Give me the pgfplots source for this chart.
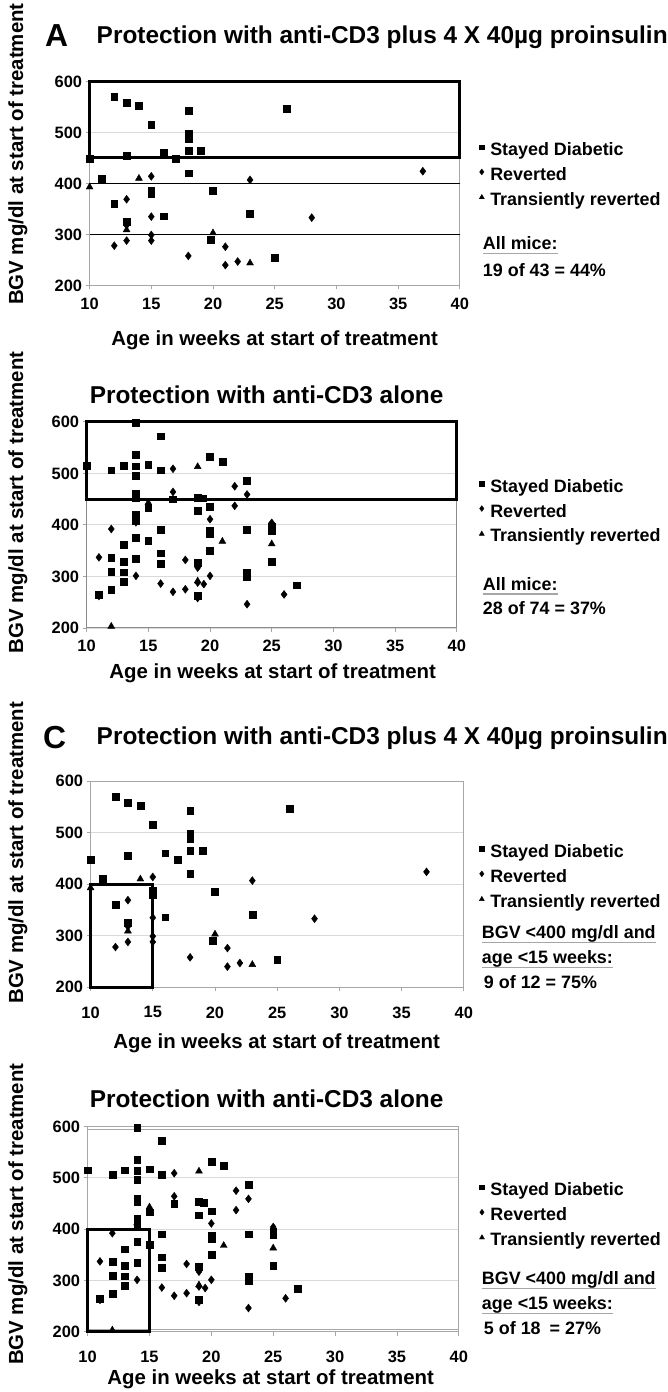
\documentclass[border=0pt]{standalone}
\usepackage{fontspec}
\setmainfont{Liberation Sans}
\usepackage{pgfplots}
\usepackage{pgfplotstable}
\pgfplotsset{compat=1.18}

% proinsulin group (panels A and C)
\pgfplotstableread{
x y
12 570
13 558
14 553
15 515
18 543
18 498
18 488
18 465
19 465
16 460
17 448
13 455
10 448
26 546
18 420
11 410
15 387
15 380
20 386
12 360
13 325
16 336
23 341
19.8 290
25 254
}\sqA
\pgfplotstableread{
x y
37 424
15 414
23 407
13 369
15 335
28 333
15 299
15 288
13 318
13 288
12 278
21 276
18 258
21 240
22 247
}\dmA
\pgfplotstableread{
x y
10 393
14 410
13 309
20 303
23 244
}\trA

% anti-CD3 alone (panels B and D)
\pgfplotstableread{
x y
10 515
12 506
13 515
14 598
14 536
14 514
14 496
14 460
14 453
15 517
16 572
16 506
20 532
21 523
23 486
19 453
19.4 452
17 450
15 433
14 420
14 408
20 435
19 427
14 375
15 370
16 390
20 388
20 382
23 390
25 396
25 388
13 361
16 345
20 350
12 337
14 335
13 328
16 325
19 326
25 328
12 309
13 308
23 308
23 300
13 290
12 274
27 283
19 263
11 264
}\sqB
\pgfplotstableread{
x y
11 337
11 262
12 392
14 301
14 405
16 286
17 270
18 275
18 332
17 509
17 464
19 317
19 288
19.5 285
20 301
20 411
22 475
22 437
23 459
23 246
25 404
26 265
19 258
}\dmB
\pgfplotstableread{
x y
19 513
15 443
14 412
21 368
25 363
19 291
12 203
}\trB

\newcommand{\titlefont}{\fontsize{24.5}{28}\selectfont\bfseries}
\newcommand{\letterfont}{\fontsize{32}{36}\selectfont\bfseries}
\newcommand{\labfont}{\fontsize{20.5}{24}\selectfont\bfseries}
\newcommand{\legfont}{\fontsize{18}{21}\selectfont\bfseries}

\pgfplotsset{
  panel/.style={
    scale only axis, anchor=south west, clip=false,
    xmin=10, xmax=40, ymin=200, ymax=600,
    xtick={10,15,...,40}, ytick={200,300,...,600},
    tick align=outside, tick pos=left, major tick length=4pt,
    tick style={gray!70, line width=0.8pt},
    ticklabel style={font=\fontsize{16.5}{18}\selectfont\bfseries,
      /pgf/number format/assume math mode=true},
    xticklabel style={yshift=-5pt},
    axis line style={gray!70, line width=1pt},
    ymajorgrids, major grid style={gray!30, line width=0.8pt},
    legend style={draw=none, fill=none, inner sep=0pt, anchor=west,
      font=\legfont, row sep=7pt,
      nodes={inner xsep=6pt, inner ysep=1pt, text height=12.5pt, text depth=3.5pt}},
    legend cell align=left,
  },
  sq/.style={only marks, mark=square*, mark size=3.4pt, black,
    legend image code/.code={\draw[##1, mark size=2.3pt] plot coordinates {(3pt,4pt)};}},
  dm/.style={only marks, mark=diamond*, mark size=4pt, black,
    legend image code/.code={\draw[##1, mark size=2.9pt] plot coordinates {(3pt,4pt)};}},
  tr/.style={only marks, mark=triangle*, mark size=4pt, black,
    legend image code/.code={\draw[##1, mark size=2.9pt] plot coordinates {(3pt,3.5pt)};}},
}

\begin{document}
\begin{tikzpicture}
\path (0pt,0pt) rectangle (671pt,-1392pt);

% ---------------- panel A ----------------
\node[font=\letterfont, anchor=base] at (57pt,-42pt) {A};
\node[font=\titlefont, anchor=base west, inner sep=0pt] at (97pt,-38.5pt)
  {Protection with anti-CD3 plus 4 X 40µg proinsulin};
\node[font=\labfont, rotate=90] at (18pt,-150pt) {BGV mg/dl at start of treatment};
\node[font=\labfont, anchor=base] at (276pt,-342pt) {Age in weeks at start of treatment};
\begin{axis}[panel, at={(90pt,-282pt)}, width=372pt, height=205pt,
  legend style={at={(1.052,0.537)}}]
  \draw[black, line width=0.7pt] (axis cs:10,300) -- (axis cs:40,300);
  \draw[black, line width=0.7pt] (axis cs:10,400) -- (axis cs:40,400);
  \addplot[sq] table {\sqA};
  \addplot[dm] table {\dmA};
  \addplot[tr] table {\trA};
  \legend{Stayed Diabetic, Reverted, Transiently reverted}
  \draw[black, line width=3pt] (axis cs:10,450) rectangle (axis cs:40,600);
\end{axis}
\node[font=\legfont, anchor=base west, inner sep=0pt] (a1) at (485pt,-246pt) {All mice:};
\draw[gray!70, line width=1.3pt] ([yshift=-4pt]a1.base west) -- ([yshift=-4pt]a1.base east);
\node[font=\legfont, anchor=base west, inner sep=0pt] at (485pt,-273pt) {19 of 43 = 44\%};

% ---------------- panel B ----------------
\node[font=\titlefont, anchor=base west, inner sep=0pt] at (90pt,-401pt)
  {Protection with anti-CD3 alone};
\node[font=\labfont, rotate=90] at (18pt,-500pt) {BGV mg/dl at start of treatment};
\node[font=\labfont, anchor=base] at (274pt,-677pt) {Age in weeks at start of treatment};
\begin{axis}[panel, at={(87pt,-626pt)}, width=372pt, height=207pt,
  axis line style={gray!90, line width=1pt},
  legend style={at={(1.060,0.56)}}]
  \addplot[sq] table {\sqB};
  \addplot[dm] table {\dmB};
  \addplot[tr] table {\trB};
  \legend{Stayed Diabetic, Reverted, Transiently reverted}
  \draw[black, line width=3pt] (axis cs:10,450) rectangle (axis cs:40,600);
\end{axis}
\node[font=\legfont, anchor=base west, inner sep=0pt] (b1) at (485pt,-588pt) {All mice:};
\draw[gray!70, line width=1.3pt] ([yshift=-4pt]b1.base west) -- ([yshift=-4pt]b1.base east);
\node[font=\legfont, anchor=base west, inner sep=0pt] at (485pt,-613pt) {28 of 74 = 37\%};

% ---------------- panel C ----------------
\node[font=\letterfont, anchor=base] at (55pt,-747pt) {C};
\node[font=\titlefont, anchor=base west, inner sep=0pt] at (97pt,-743pt)
  {Protection with anti-CD3 plus 4 X 40µg proinsulin};
\node[font=\labfont, rotate=90] at (18pt,-852pt) {BGV mg/dl at start of treatment};
\node[font=\labfont, anchor=base] at (278pt,-1049pt) {Age in weeks at start of treatment};
\begin{axis}[panel, at={(91pt,-987pt)}, width=375pt, height=207pt,
  xticklabel style={yshift=-7pt},
  legend style={at={(1.041,0.531)}}]
  \addplot[sq] table {\sqA};
  \addplot[dm] table {\dmA};
  \addplot[tr] table {\trA};
  \legend{Stayed Diabetic, Reverted, Transiently reverted}
  \draw[black, line width=3pt] (axis cs:10,200) rectangle (axis cs:15,400);
\end{axis}
\node[font=\legfont, anchor=base west, inner sep=0pt] (c1) at (484pt,-938pt) {BGV <400 mg/dl and};
\draw[gray!70, line width=1.3pt] ([yshift=-4pt]c1.base west) -- ([yshift=-4pt]c1.base east);
\node[font=\legfont, anchor=base west, inner sep=0pt] (c2) at (484pt,-963pt) {age <15 weeks:};
\draw[gray!70, line width=1.3pt] ([yshift=-4pt]c2.base west) -- ([yshift=-4pt]c2.base east);
\node[font=\legfont, anchor=base west, inner sep=0pt] at (486pt,-988pt) {9 of 12 = 75\%};

% ---------------- panel D ----------------
\node[font=\titlefont, anchor=base west, inner sep=0pt] at (90pt,-1108pt)
  {Protection with anti-CD3 alone};
\node[font=\labfont, rotate=90] at (18pt,-1215pt) {BGV mg/dl at start of treatment};
\node[font=\labfont, anchor=base] at (272pt,-1386pt) {Age in weeks at start of treatment};
\begin{axis}[panel, at={(88pt,-1333pt)}, width=373pt, height=206pt,
  xticklabel style={yshift=-7pt},
  legend style={at={(1.055,0.563)}}]
  \draw[gray!70, line width=1pt] ([yshift=-2.5pt]rel axis cs:0,1) -- ([yshift=-2.5pt]rel axis cs:1,1);
  \draw[gray!70, line width=1pt] ([yshift=2.5pt]rel axis cs:0,0) -- ([yshift=2.5pt]rel axis cs:1,0);
  \addplot[sq] table {\sqB};
  \addplot[dm] table {\dmB};
  \addplot[tr] table {\trB};
  \legend{Stayed Diabetic, Reverted, Transiently reverted}
  \draw[black, line width=3pt] (axis cs:10,200) rectangle (axis cs:15,400);
\end{axis}
\node[font=\legfont, anchor=base west, inner sep=0pt] (d1) at (484pt,-1286pt) {BGV <400 mg/dl and};
\draw[gray!70, line width=1.3pt] ([yshift=-4pt]d1.base west) -- ([yshift=-4pt]d1.base east);
\node[font=\legfont, anchor=base west, inner sep=0pt] (d2) at (484pt,-1311pt) {age <15 weeks:};
\draw[gray!70, line width=1.3pt] ([yshift=-4pt]d2.base west) -- ([yshift=-4pt]d2.base east);
\node[font=\legfont, anchor=base west, inner sep=0pt] at (486pt,-1336pt) {5 of 18\enspace= 27\%};
\end{tikzpicture}
\end{document}
